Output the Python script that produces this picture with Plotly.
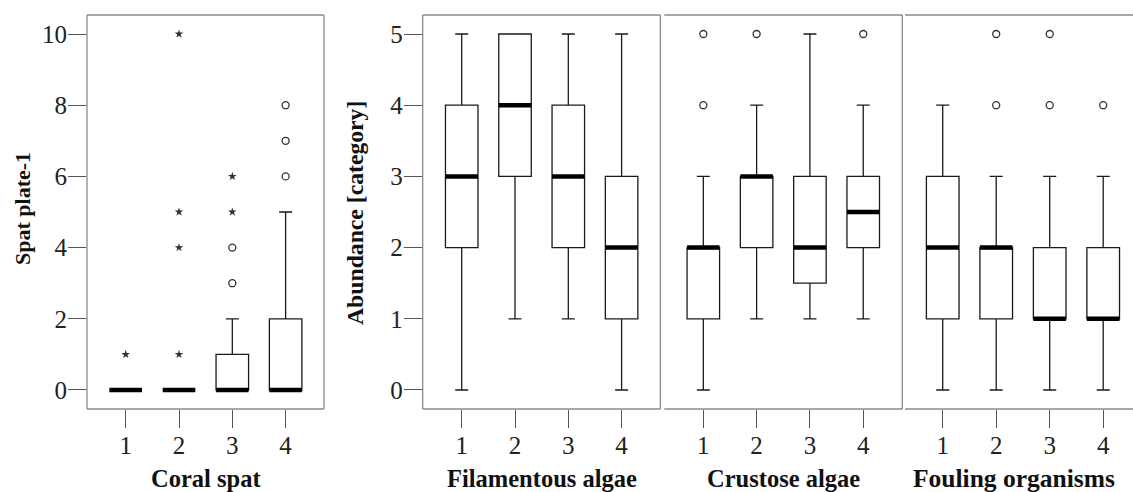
import plotly.graph_objects as go

# ---------------- data ----------------
groups = [1, 2, 3, 4]

coral_lo = [0, 0, 0, 0]
coral_q1 = [0, 0, 0, 0]
coral_med = [0, 0, 0, 0]
coral_q3 = [0, 0, 1, 2]
coral_hi = [0, 0, 2, 5]
coral_circle_x = [3, 3, 4, 4, 4]
coral_circle_y = [3, 4, 6, 7, 8]
coral_star_x = [1, 2, 2, 2, 2, 3, 3]
coral_star_y = [1, 1, 4, 5, 10, 5, 6]

fil_lo = [0, 1, 1, 0]
fil_q1 = [2, 3, 2, 1]
fil_med = [3, 4, 3, 2]
fil_q3 = [4, 5, 4, 3]
fil_hi = [5, 5, 5, 5]

cru_lo = [0, 1, 1, 1]
cru_q1 = [1, 2, 1.5, 2]
cru_med = [2, 3, 2, 2.5]
cru_q3 = [2, 3, 3, 3]
cru_hi = [3, 4, 5, 4]
cru_circle_x = [1, 1, 2, 4]
cru_circle_y = [4, 5, 5, 5]

fou_lo = [0, 0, 0, 0]
fou_q1 = [1, 1, 1, 1]
fou_med = [2, 2, 1, 1]
fou_q3 = [3, 2, 2, 2]
fou_hi = [4, 3, 3, 3]
fou_circle_x = [2, 2, 3, 3, 4]
fou_circle_y = [4, 5, 4, 5, 4]

panel_titles = ["Coral spat", "Filamentous algae", "Crustose algae", "Fouling organisms"]
y_titles = ["Spat plate-1", "Abundance [category]"]
coral_ticks = [0, 2, 4, 6, 8, 10]
abund_ticks = [0, 1, 2, 3, 4, 5]

# ---------------- styling ----------------
W, H = 1133, 492
FONT = "Liberation Serif"
FS_TICK = 25
FS_TITLE = 24.5
BOX_W = 0.61
BOX_LINE = "#1a1a1a"
TICK_C = "#555555"
FRAME_C = "#8a8a8a"
TXT_C = "#222222"

fig = go.Figure()

panels = [
    dict(lo=coral_lo, q1=coral_q1, med=coral_med, q3=coral_q3, hi=coral_hi,
         cx=coral_circle_x, cy=coral_circle_y, sx=coral_star_x, sy=coral_star_y),
    dict(lo=fil_lo, q1=fil_q1, med=fil_med, q3=fil_q3, hi=fil_hi,
         cx=[], cy=[], sx=[], sy=[]),
    dict(lo=cru_lo, q1=cru_q1, med=cru_med, q3=cru_q3, hi=cru_hi,
         cx=cru_circle_x, cy=cru_circle_y, sx=[], sy=[]),
    dict(lo=fou_lo, q1=fou_q1, med=fou_med, q3=fou_q3, hi=fou_hi,
         cx=fou_circle_x, cy=fou_circle_y, sx=[], sy=[]),
]

for i, p in enumerate(panels):
    xa = "x" if i == 0 else f"x{i+1}"
    ya = "y" if i == 0 else f"y{i+1}"
    fig.add_trace(go.Box(
        x=groups, q1=p["q1"], median=p["med"], q3=p["q3"],
        lowerfence=p["lo"], upperfence=p["hi"],
        width=BOX_W, whiskerwidth=0.4,
        line=dict(color=BOX_LINE, width=1.3), fillcolor="white",
        boxpoints=False, showlegend=False, hoverinfo="skip",
        xaxis=xa, yaxis=ya))
    # thick median bars
    mx, my = [], []
    for g, m in zip(groups, p["med"]):
        mx += [g - BOX_W / 2, g + BOX_W / 2, None]
        my += [m, m, None]
    fig.add_trace(go.Scatter(x=mx, y=my, mode="lines",
                             line=dict(color="black", width=4.5),
                             showlegend=False, hoverinfo="skip",
                             xaxis=xa, yaxis=ya))
    if p["cx"]:
        fig.add_trace(go.Scatter(x=p["cx"], y=p["cy"], mode="markers",
                                 marker=dict(symbol="circle-open", size=7,
                                             color="#333333", line=dict(width=1.3)),
                                 showlegend=False, hoverinfo="skip",
                                 xaxis=xa, yaxis=ya))
    if p["sx"]:
        fig.add_trace(go.Scatter(x=p["sx"], y=p["sy"], mode="markers",
                                 marker=dict(symbol="star", size=6.5, color="#333333",
                                             line=dict(width=0)),
                                 showlegend=False, hoverinfo="skip",
                                 xaxis=xa, yaxis=ya))

# ---------------- layout ----------------
px_dom = [(87, 324), (422.7, 660.3), (664.3, 902.3), (905, 1133)]
x_ranges = [(0.274, 4.72), (0.268, 4.726), (0.268, 4.733), (0.295, 4.557)]
y_dom = [1 - 409 / H, 1 - 15 / H]

layout = dict(
    width=W, height=H,
    margin=dict(l=0, r=0, t=0, b=0),
    paper_bgcolor="white", plot_bgcolor="white",
    font=dict(family=FONT, size=FS_TICK, color=TXT_C),
    showlegend=False,
)

for i in range(4):
    xk = "xaxis" if i == 0 else f"xaxis{i+1}"
    yk = "yaxis" if i == 0 else f"yaxis{i+1}"
    ya = "y" if i == 0 else f"y{i+1}"
    layout[xk] = dict(
        domain=[px_dom[i][0] / W, px_dom[i][1] / W],
        anchor=ya, range=list(x_ranges[i]), type="linear",
        tickmode="array", tickvals=groups, ticktext=[str(g) for g in groups],
        ticks="outside", ticklen=18, tickwidth=1.3, tickcolor=TICK_C,
        ticklabelstandoff=-4,
        showgrid=False, zeroline=False, showline=False,
        tickfont=dict(family=FONT, size=FS_TICK, color=TXT_C),
        fixedrange=True,
    )
    ydict = dict(domain=y_dom, anchor="x" if i == 0 else f"x{i+1}",
                 showgrid=False, zeroline=False, showline=False, fixedrange=True)
    if i == 0:
        ydict.update(range=[-0.534, 10.534], tickmode="array", tickvals=coral_ticks,
                     ticks="outside", ticklen=18, tickwidth=1.3, tickcolor=TICK_C,
                     ticklabelstandoff=-4,
                     tickfont=dict(family=FONT, size=FS_TICK, color=TXT_C))
    elif i == 1:
        ydict.update(range=[-0.267, 5.267], tickmode="array", tickvals=abund_ticks,
                     ticks="outside", ticklen=18, tickwidth=1.3, tickcolor=TICK_C,
                     ticklabelstandoff=-4,
                     tickfont=dict(family=FONT, size=FS_TICK, color=TXT_C))
    else:
        ydict.update(range=[-0.267, 5.267], showticklabels=False, ticks="")
    layout[yk] = ydict

fig.update_layout(**layout)

# frames
def seg(i, x0, y0, x1, y1):
    xr = "x domain" if i == 0 else f"x{i+1} domain"
    yr = "y domain" if i == 0 else f"y{i+1} domain"
    fig.add_shape(type="line", xref=xr, yref=yr, x0=x0, y0=y0, x1=x1, y1=y1,
                  line=dict(color=FRAME_C, width=1.3), layer="below")

for i in (0, 1):
    seg(i, 0, 0, 1, 0); seg(i, 0, 1, 1, 1); seg(i, 0, 0, 0, 1); seg(i, 1, 0, 1, 1)
seg(2, 0, 0, 1, 0); seg(2, 0, 1, 1, 1); seg(2, 1, 0, 1, 1)
seg(3, 0, 0, 1, 0); seg(3, 0, 1, 1, 1)

# axis titles
x_title_cx = [206, 541.5, 783.3, 1014]
x_title_fs = [FS_TITLE, FS_TITLE, FS_TITLE, 25.5]
for t, cx, fs in zip(panel_titles, x_title_cx, x_title_fs):
    fig.add_annotation(text=f"<b>{t}</b>", xref="paper", yref="paper",
                       x=cx / W, y=1 - 478 / H, xanchor="center", yanchor="middle",
                       showarrow=False, font=dict(family=FONT, size=fs, color="#111111"))
for t, (cx, cy), fs in zip(y_titles, [(22, 209), (355, 213)], [22, 23.7]):
    fig.add_annotation(text=f"<b>{t}</b>", xref="paper", yref="paper",
                       x=cx / W, y=1 - cy / H, xanchor="center", yanchor="middle",
                       textangle=-90, showarrow=False,
                       font=dict(family=FONT, size=fs, color="#111111"))

fig.write_html("out.html")
